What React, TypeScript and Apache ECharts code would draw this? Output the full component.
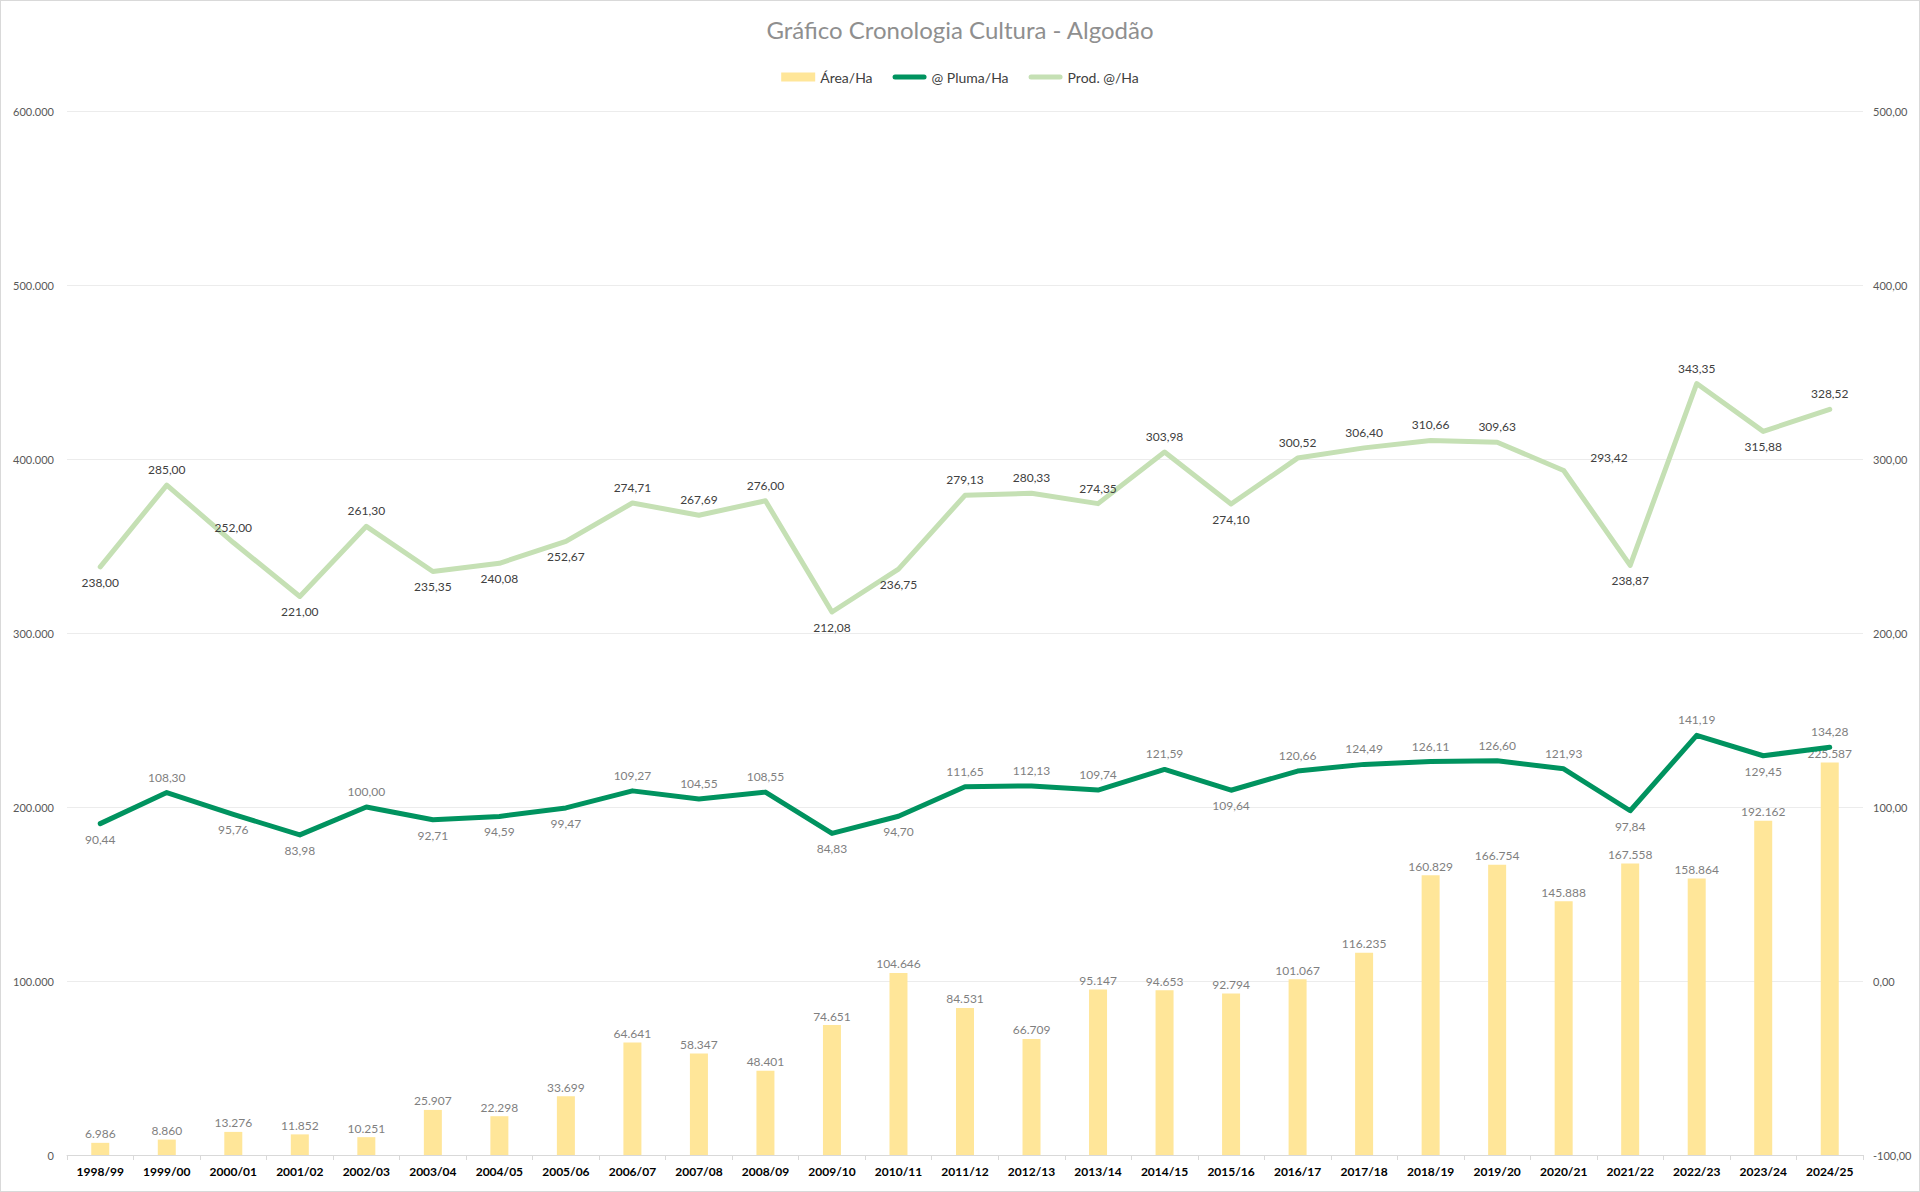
import React, { useEffect, useRef } from 'react';
import * as echarts from 'echarts';

const categories = [
  '1998/99', '1999/00', '2000/01', '2001/02', '2002/03', '2003/04', '2004/05', '2005/06', '2006/07',
  '2007/08', '2008/09', '2009/10', '2010/11', '2011/12', '2012/13', '2013/14', '2014/15', '2015/16',
  '2016/17', '2017/18', '2018/19', '2019/20', '2020/21', '2021/22', '2022/23', '2023/24', '2024/25',
];

const areaHa = [
  6986, 8860, 13276, 11852, 10251, 25907, 22298, 33699, 64641, 58347, 48401, 74651, 104646, 84531,
  66709, 95147, 94653, 92794, 101067, 116235, 160829, 166754, 145888, 167558, 158864, 192162, 225587,
];

const plumaHa = [
  90.44, 108.3, 95.76, 83.98, 100.0, 92.71, 94.59, 99.47, 109.27, 104.55, 108.55, 84.83, 94.7, 111.65,
  112.13, 109.74, 121.59, 109.64, 120.66, 124.49, 126.11, 126.6, 121.93, 97.84, 141.19, 129.45, 134.28,
];

const prodHa = [
  238.0, 285.0, 252.0, 221.0, 261.3, 235.35, 240.08, 252.67, 274.71, 267.69, 276.0, 212.08, 236.75, 279.13,
  280.33, 274.35, 303.98, 274.1, 300.52, 306.4, 310.66, 309.63, 293.42, 238.87, 343.35, 315.88, 328.52,
];

// label placement (style, kept apart from values)
const prodLabelPos = [
  'bottom', 'top', 'top', 'bottom', 'top', 'bottom', 'bottom', 'bottom', 'top', 'top', 'top', 'bottom', 'bottom', 'top',
  'top', 'top', 'top', 'bottom', 'top', 'top', 'top', 'top', 'upperRight', 'bottom', 'top', 'bottom', 'top',
];
const plumaLabelPos = [
  'bottom', 'top', 'bottom', 'bottom', 'top', 'bottom', 'bottom', 'bottom', 'top', 'top', 'top', 'bottom', 'bottom', 'top',
  'top', 'top', 'top', 'bottom', 'top', 'top', 'top', 'top', 'top', 'bottom', 'top', 'bottom', 'top',
];

const leftAxisMin = 0;
const leftAxisMax = 600000;
const leftAxisInterval = 100000;
const rightAxisMin = -100;
const rightAxisMax = 500;
const rightAxisInterval = 100;

const FONT = 'Lato, "Noto Sans", sans-serif';
const LINE_ICON = 'path://M2.5,0H31.5A2.5,2.5,0,0,1,31.5,5H2.5A2.5,2.5,0,0,1,2.5,0Z';

function fmtThousands(v: number): string {
  const s = Math.round(v).toString();
  const neg = s.startsWith('-');
  const digits = neg ? s.slice(1) : s;
  const out = digits.replace(/\B(?=(\d{3})+(?!\d))/g, '.');
  return (neg ? '-' : '') + out;
}
function fmtDec(v: number): string {
  return v.toFixed(2).replace('.', ',');
}
function labelFor(pos: string): any {
  if (pos === 'upperRight') return { position: [27, -18], align: 'left', verticalAlign: 'top' };
  return { position: pos };
}

export default function App() {
  const ref = useRef<HTMLDivElement>(null);
  useEffect(() => {
    if (!ref.current) return;
    const chart = echarts.init(ref.current, null, { renderer: 'svg' });
    const option: any = {
      animation: false,
      backgroundColor: '#ffffff',
      title: {
        text: 'Gráfico Cronologia Cultura - Algodão',
        left: 'center',
        top: 11,
        textStyle: { color: '#8f8f8f', fontSize: 24, fontWeight: 'normal', fontFamily: FONT },
      },
      legend: {
        top: 64,
        left: 'center',
        itemGap: 20,
        itemWidth: 34,
        itemHeight: 9,
        symbolKeepAspect: true,
        textStyle: { color: '#404040', fontSize: 14, fontFamily: FONT },
        data: [
          { name: 'Área/Ha', icon: 'rect' },
          { name: '@ Pluma/Ha', icon: LINE_ICON, itemStyle: { color: '#00935F' } },
          { name: 'Prod. @/Ha', icon: LINE_ICON, itemStyle: { color: '#C5E0B4' } },
        ],
      },
      grid: { left: 66, right: 56, top: 110, bottom: 36, containLabel: false },
      xAxis: {
        type: 'category',
        data: categories,
        boundaryGap: true,
        axisLine: { lineStyle: { color: '#d9d9d9', width: 1 } },
        axisTick: { show: true, alignWithLabel: false, length: 5, lineStyle: { color: '#d9d9d9' } },
        axisLabel: { color: '#000000', fontWeight: 'bold', fontSize: 12, fontFamily: FONT, margin: 10, interval: 0 },
      },
      yAxis: [
        {
          type: 'value',
          min: leftAxisMin,
          max: leftAxisMax,
          interval: leftAxisInterval,
          axisLine: { show: false },
          axisTick: { show: false },
          splitLine: { show: true, lineStyle: { color: '#ececec', width: 1 } },
          axisLabel: { color: '#595959', fontSize: 11, fontFamily: FONT, margin: 13, formatter: (v: number) => fmtThousands(v) },
        },
        {
          type: 'value',
          min: rightAxisMin,
          max: rightAxisMax,
          interval: rightAxisInterval,
          position: 'right',
          axisLine: { show: false },
          axisTick: { show: false },
          splitLine: { show: false },
          axisLabel: { color: '#595959', fontSize: 11, fontFamily: FONT, margin: 10, formatter: (v: number) => fmtDec(v) },
        },
      ],
      series: [
        {
          name: 'Área/Ha',
          type: 'bar',
          yAxisIndex: 0,
          barWidth: 18,
          data: areaHa,
          itemStyle: { color: '#FFE699' },
          label: {
            show: true,
            position: 'top',
            distance: 3,
            color: '#7f7f7f',
            fontSize: 12,
            fontFamily: FONT,
            formatter: (p: any) => fmtThousands(p.value),
          },
          z: 1,
        },
        {
          name: '@ Pluma/Ha',
          type: 'line',
          yAxisIndex: 1,
          symbol: 'circle',
          symbolSize: 1,
          showSymbol: true,
          lineStyle: { color: '#00935F', width: 5, cap: 'round', join: 'round' },
          itemStyle: { color: '#00935F' },
          data: plumaHa.map((v, i) => ({ value: v, label: labelFor(plumaLabelPos[i]) })),
          label: {
            show: true,
            distance: 9,
            color: '#7f7f7f',
            fontSize: 12,
            fontFamily: FONT,
            formatter: (p: any) => fmtDec(p.value),
          },
          labelLayout: { hideOverlap: false },
          z: 3,
        },
        {
          name: 'Prod. @/Ha',
          type: 'line',
          yAxisIndex: 1,
          symbol: 'circle',
          symbolSize: 1,
          showSymbol: true,
          lineStyle: { color: '#C5E0B4', width: 5, cap: 'round', join: 'round' },
          itemStyle: { color: '#C5E0B4' },
          data: prodHa.map((v, i) => ({ value: v, label: labelFor(prodLabelPos[i]) })),
          label: {
            show: true,
            distance: 9,
            color: '#404040',
            fontSize: 12,
            fontFamily: FONT,
            formatter: (p: any) => fmtDec(p.value),
          },
          labelLayout: { hideOverlap: false },
          z: 2,
        },
      ],
    };
    chart.setOption(option);
    return () => chart.dispose();
  }, []);

  return (
    <div
      style={{
        position: 'fixed',
        left: 0,
        top: 0,
        width: 1920,
        height: 1192,
        boxSizing: 'border-box',
        border: '1px solid #d9d9d9',
        background: '#fff',
      }}
    >
      <div ref={ref} style={{ width: '100%', height: '100%' }} />
    </div>
  );
}
